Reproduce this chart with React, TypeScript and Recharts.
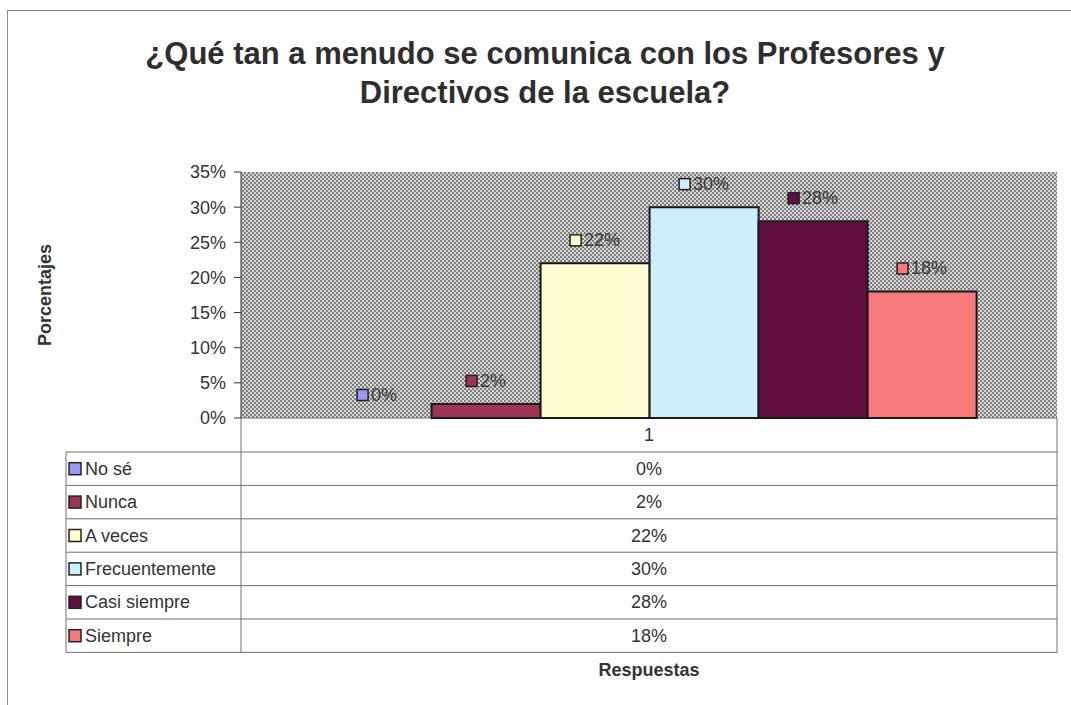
import { Bar, BarChart, CartesianGrid, LabelList, XAxis, YAxis } from "recharts";

const FONT = "Arial, 'Liberation Sans', Helvetica, sans-serif";

const titleLines = ["¿Qué tan a menudo se comunica con los Profesores y", "Directivos de la escuela?"];
const categoryLabels = ["1"];
const seriesNames = ["No sé", "Nunca", "A veces", "Frecuentemente", "Casi siempre", "Siempre"];
const seriesValues = [0, 2, 22, 30, 28, 18];
const seriesColors = ["#9a99f5", "#9c3454", "#fffdd2", "#cdeffc", "#62103f", "#f7797c"];
const yTicks = [0, 5, 10, 15, 20, 25, 30, 35];
const yAxisTitle = "Porcentajes";
const xAxisTitle = "Respuestas";

const seriesKeys = seriesNames.map((_, i) => `s${i}`);
const data = categoryLabels.map((name) => {
  const row: Record<string, string | number> = { name };
  seriesKeys.forEach((k, i) => {
    row[k] = seriesValues[i];
  });
  return row;
});

// plot box (page coords), chart is pinned at 0,0
const PLOT = { left: 241, top: 172, right: 1057, bottom: 418 };
const TABLE = { left: 66, headerBottom: 452, rowH: 33.4 };
const pct = (v: number | string) => `${v}%`;

function BarLabel(props: any) {
  const { x, y, width, value, color } = props;
  const cx = Number(x) + Number(width) / 2;
  const cy = Number(y) - 23;
  const text = pct(value);
  const tw = 18 * (0.556 * String(value).length + 0.889);
  const sq = 11;
  const gap = 3;
  const left = cx - (sq + gap + tw) / 2;
  return (
    <g>
      <rect x={left} y={cy - sq / 2} width={sq} height={sq} fill={color} stroke="#222" strokeWidth={1.5} />
      <text x={left + sq + gap} y={cy} dominantBaseline="central" fontSize={18} fill="#3a3a3a" fontFamily={FONT}>
        {text}
      </text>
    </g>
  );
}

function ChartFrame() {
  const midX = (PLOT.left + PLOT.right) / 2;
  const tableBottom = TABLE.headerBottom + TABLE.rowH * seriesNames.length;
  const line = "#707070";
  return (
    <g fontFamily={FONT}>
      <rect x={7.5} y={10.5} width={1100} height={800} fill="none" stroke="#8a8a8a" />
      {titleLines.map((t, i) => (
        <text key={t} x={545} y={64 + i * 39} textAnchor="middle" fontSize={31} fontWeight="bold" fill="#2e2e2e">
          {t}
        </text>
      ))}
      <text transform={`translate(51,${(PLOT.top + PLOT.bottom) / 2}) rotate(-90)`} textAnchor="middle" fontSize={18} fontWeight="bold" fill="#333">
        {yAxisTitle}
      </text>

      {/* data table */}
      <line x1={PLOT.left} x2={PLOT.right} y1={PLOT.bottom} y2={PLOT.bottom} stroke={line} />
      <line x1={PLOT.left} x2={PLOT.left} y1={PLOT.bottom} y2={tableBottom} stroke={line} />
      <line x1={PLOT.right} x2={PLOT.right} y1={PLOT.bottom} y2={tableBottom} stroke={line} />
      <line x1={TABLE.left} x2={TABLE.left} y1={TABLE.headerBottom} y2={tableBottom} stroke={line} />
      {categoryLabels.map((c) => (
        <text key={c} x={midX} y={(PLOT.bottom + TABLE.headerBottom) / 2} textAnchor="middle" dominantBaseline="central" fontSize={18} fill="#333">
          {c}
        </text>
      ))}
      {seriesNames.map((name, i) => {
        const top = TABLE.headerBottom + TABLE.rowH * i;
        const cy = top + TABLE.rowH / 2;
        return (
          <g key={name}>
            <line x1={TABLE.left} x2={PLOT.right} y1={top} y2={top} stroke={line} />
            <rect x={69} y={cy - 6} width={12} height={12} fill={seriesColors[i]} stroke="#222" strokeWidth={1.5} />
            <text x={85} y={cy} dominantBaseline="central" fontSize={18} fill="#333">
              {name}
            </text>
            <text x={midX} y={cy} textAnchor="middle" dominantBaseline="central" fontSize={18} fill="#333">
              {pct(seriesValues[i])}
            </text>
          </g>
        );
      })}
      <line x1={TABLE.left} x2={PLOT.right} y1={tableBottom} y2={tableBottom} stroke={line} />
      <text x={midX} y={670} textAnchor="middle" dominantBaseline="central" fontSize={18} fontWeight="bold" fill="#333">
        {xAxisTitle}
      </text>
    </g>
  );
}

export default function App() {
  return (
    <div style={{ position: "absolute", left: 0, top: 0, width: 1071, height: 705, background: "#fff" }}>
      <BarChart
        width={1071}
        height={705}
        data={data}
        margin={{ top: PLOT.top, right: 1071 - PLOT.right, bottom: 705 - PLOT.bottom, left: PLOT.left - 80 }}
        barCategoryGap="10%"
        barGap={0}
      >
        <defs>
          <pattern id="checker" width="4" height="4" patternUnits="userSpaceOnUse">
            <rect width="4" height="4" fill="#d6d6d6" />
            <rect width="2" height="2" fill="#7e7e7e" />
            <rect x="2" y="2" width="2" height="2" fill="#7e7e7e" />
          </pattern>
        </defs>
        <CartesianGrid horizontal={false} vertical={false} fill="url(#checker)" stroke="none" />
        <XAxis dataKey="name" hide />
        <YAxis
          width={80}
          domain={[0, 35]}
          ticks={yTicks}
          interval={0}
          tickFormatter={pct}
          axisLine={{ stroke: "#333" }}
          tickLine={{ stroke: "#333" }}
          tickSize={7}
          tickMargin={8}
          tick={{ fill: "#333", fontSize: 18, fontFamily: FONT }}
        />
        {seriesKeys.map((k, i) => {
          // a 0% bar still needs its label, so keep a hairline rect with no stroke
          const empty = seriesValues[i] === 0;
          return (
            <Bar
              key={k}
              dataKey={k}
              fill={seriesColors[i]}
              stroke={empty ? "none" : "#1a1a1a"}
              strokeWidth={2}
              minPointSize={empty ? 0.01 : 0}
              isAnimationActive={false}
            >
              <LabelList dataKey={k} content={(p: any) => <BarLabel {...p} color={seriesColors[i]} />} />
            </Bar>
          );
        })}
        <ChartFrame />
      </BarChart>
    </div>
  );
}
